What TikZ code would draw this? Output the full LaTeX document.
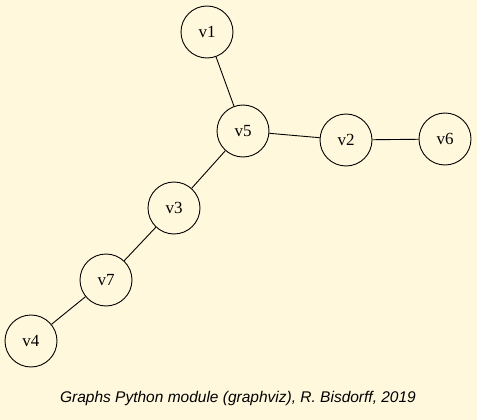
\documentclass[tikz,border=0pt]{standalone}
\usepackage{fontspec}
\setmainfont{Liberation Serif}
\newfontfamily\capfont{Liberation Sans}
\definecolor{bgc}{HTML}{FFF8DC}
\begin{document}
\begin{tikzpicture}[x=1pt,y=-1pt,
  vtx/.style={circle,draw=black,line width=0.9pt,minimum size=52pt,inner sep=0pt,font=\fontsize{17}{19}\selectfont},
  edge/.style={draw=black,line width=0.9pt}]
\fill[bgc] (0,0) rectangle (477,420);
\useasboundingbox (0,0) rectangle (477,420);
\node[vtx] (v1) at (207,32) {v1};
\node[vtx] (v5) at (243,131) {v5};
\node[vtx] (v2) at (346,140) {v2};
\node[vtx] (v6) at (445,139) {v6};
\node[vtx] (v3) at (174,208) {v3};
\node[vtx] (v7) at (106,280) {v7};
\node[vtx] (v4) at (31,341) {v4};
\draw[edge] (v1) -- (v5);
\draw[edge] (v5) -- (v2);
\draw[edge] (v2) -- (v6);
\draw[edge] (v5) -- (v3);
\draw[edge] (v3) -- (v7);
\draw[edge] (v7) -- (v4);
\node[font=\capfont\itshape\fontsize{15.5}{17}\selectfont] (cap) at (238,398) {Graphs Python module (graphviz), R. Bisdorff, 2019};
\end{tikzpicture}
\end{document}
